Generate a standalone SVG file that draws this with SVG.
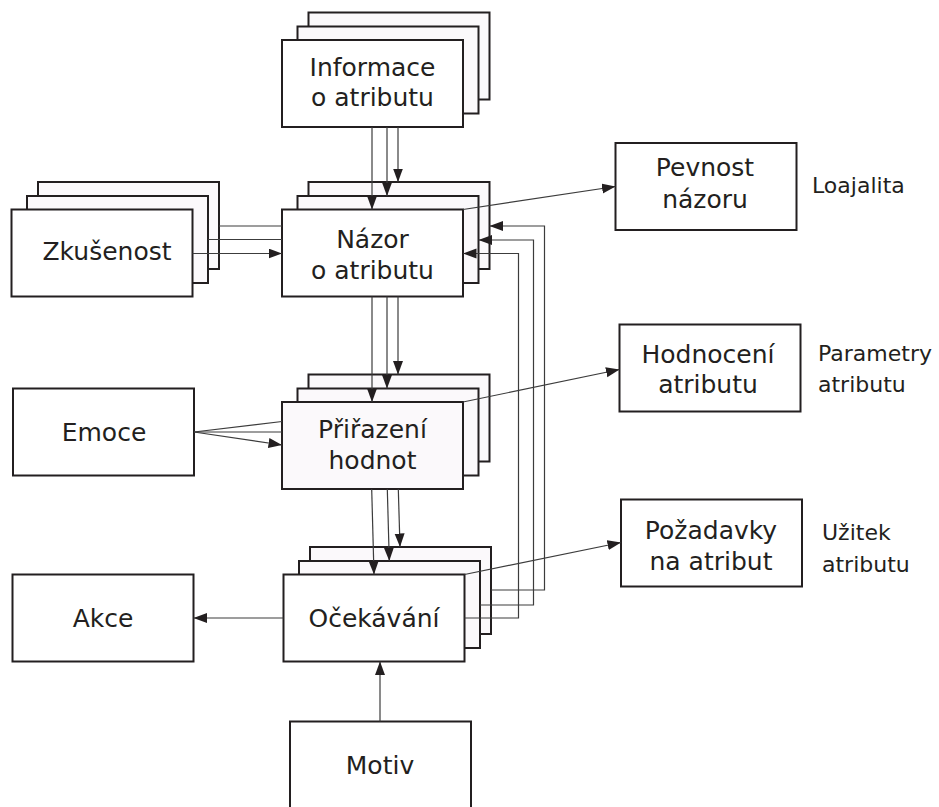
<svg xmlns="http://www.w3.org/2000/svg" width="939" height="807" viewBox="0 0 939 807">
  <style>
    .box { fill: #ffffff; stroke: #231f20; stroke-width: 2; }
    .tint { fill: #fbf9fb; stroke: #231f20; stroke-width: 2; }
    .t { font-family: "DejaVu Sans", Verdana, sans-serif; font-size: 25px; fill: #231f20; text-anchor: middle; }
    .lbl { font-family: "DejaVu Sans", Verdana, sans-serif; font-size: 22px; fill: #231f20; }
    .c { fill: none; stroke: #3c3c3c; stroke-width: 1.2; }
    .ca { fill: none; stroke: #3c3c3c; stroke-width: 1.2; marker-end: url(#arr); }
  </style>
  <defs>
    <marker id="arr" markerUnits="userSpaceOnUse" markerWidth="15" markerHeight="11" refX="13.5" refY="5" orient="auto">
      <path d="M0,0 L13.5,5 L0,10 Z" fill="#231f20"/>
    </marker>
  </defs>
  <rect width="939" height="807" fill="#ffffff"/>

  <!-- stacked nodes -->
  <g id="informace">
    <rect class="tint" x="308.5" y="12.5" width="181" height="87"/>
    <rect class="tint" x="297.5" y="26.5" width="181" height="87"/>
    <rect class="box" x="282" y="40" width="181" height="87"/>
    <text class="t" x="372.5" y="76">Informace</text>
    <text class="t" x="372.5" y="106">o atributu</text>
  </g>
  <g id="zkusenost">
    <rect class="tint" x="38" y="182" width="181" height="87"/>
    <rect class="tint" x="27" y="196" width="181" height="87"/>
    <rect class="box" x="11.5" y="209.5" width="181" height="87"/>
    <text class="t" x="107" y="260">Zkušenost</text>
  </g>
  <g id="nazor">
    <rect class="tint" x="308.5" y="182" width="181" height="87"/>
    <rect class="tint" x="297.5" y="196" width="181" height="87"/>
    <rect class="box" x="282" y="209.5" width="181" height="87"/>
    <text class="t" x="372.5" y="248">Názor</text>
    <text class="t" x="372.5" y="279">o atributu</text>
  </g>
  <g id="prirazeni">
    <rect class="tint" x="308.5" y="374.5" width="181" height="87"/>
    <rect class="tint" x="297.5" y="388.5" width="181" height="87"/>
    <rect class="tint" x="282" y="402" width="181" height="87"/>
    <text class="t" x="372.5" y="438">Přiřazení</text>
    <text class="t" x="372.5" y="469">hodnot</text>
  </g>
  <g id="ocekavani">
    <rect class="tint" x="310" y="547" width="181" height="87"/>
    <rect class="tint" x="299" y="561" width="181" height="87"/>
    <rect class="box" x="283.5" y="574.5" width="181" height="87"/>
    <text class="t" x="374" y="627">Očekávání</text>
  </g>

  <!-- single nodes -->
  <g id="emoce">
    <rect class="box" x="13" y="388.5" width="181" height="87"/>
    <text class="t" x="104" y="441">Emoce</text>
  </g>
  <g id="akce">
    <rect class="box" x="12.5" y="574.5" width="181" height="87"/>
    <text class="t" x="103" y="627">Akce</text>
  </g>
  <g id="motiv">
    <rect class="box" x="290" y="721.5" width="181" height="100"/>
    <text class="t" x="380" y="774">Motiv</text>
  </g>
  <g id="pevnost">
    <rect class="box" x="615.5" y="143" width="181" height="87"/>
    <text class="t" x="705" y="176">Pevnost</text>
    <text class="t" x="705" y="208">názoru</text>
    <text class="lbl" x="812" y="193">Loajalita</text>
  </g>
  <g id="hodnoceni">
    <rect class="box" x="619.5" y="324.5" width="181" height="87"/>
    <text class="t" x="708" y="363">Hodnocení</text>
    <text class="t" x="708" y="393">atributu</text>
    <text class="lbl" x="818" y="361">Parametry</text>
    <text class="lbl" x="818" y="392">atributu</text>
  </g>
  <g id="pozadavky">
    <rect class="box" x="621" y="499.5" width="181" height="87"/>
    <text class="t" x="711" y="539">Požadavky</text>
    <text class="t" x="711" y="570">na atribut</text>
    <text class="lbl" x="822" y="540">Užitek</text>
    <text class="lbl" x="822" y="572">atributu</text>
  </g>

  <!-- connectors -->
  <g id="connectors">
    <!-- Informace -> Názor -->
    <path class="ca" d="M372,127 V209.5"/>
    <path class="ca" d="M387,127 V196"/>
    <path class="ca" d="M398,127 V182"/>
    <!-- Zkušenost -> Názor -->
    <path class="c" d="M219,226 H282"/>
    <path class="c" d="M208,239.5 H282"/>
    <path class="ca" d="M192.5,253.5 H282"/>
    <!-- Názor -> Přiřazení -->
    <path class="ca" d="M372,296.5 V402"/>
    <path class="ca" d="M387,296.5 V388.5"/>
    <path class="ca" d="M398,296.5 V374.5"/>
    <!-- Emoce -> Přiřazení -->
    <path class="c" d="M194,432 L282,421.5"/>
    <path class="c" d="M194,432 H282"/>
    <path class="ca" d="M194,432 L282,445"/>
    <!-- Přiřazení -> Očekávání -->
    <path class="ca" d="M371.7,489 L374,574.5"/>
    <path class="ca" d="M387.3,489 L389.3,561"/>
    <path class="ca" d="M398.3,489 L400,547"/>
    <!-- Očekávání feedback -> Názor -->
    <path class="ca" d="M491,590 H544.5 V226 H489.5"/>
    <path class="ca" d="M480,605 H533.5 V240 H478.5"/>
    <path class="ca" d="M464.5,618 H518.5 V253.5 H463"/>
    <!-- Očekávání -> Akce -->
    <path class="ca" d="M283.5,618 H193.5"/>
    <!-- Motiv -> Očekávání -->
    <path class="ca" d="M380,721.5 V661.5"/>
    <!-- outputs to the right -->
    <path class="ca" d="M463,209.5 L615.5,186.5"/>
    <path class="ca" d="M463,402 L619.5,369.5"/>
    <path class="ca" d="M464.5,574.5 L621,542.5"/>
  </g>
</svg>
